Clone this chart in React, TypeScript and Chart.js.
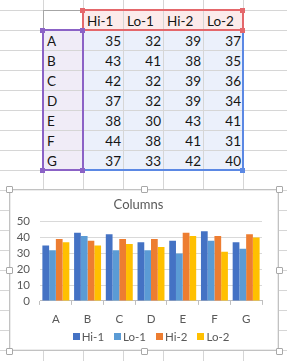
import React, { useEffect, useRef } from 'react';
import { Chart, registerables } from 'chart.js';

Chart.register(...registerables);

const categories = ['A', 'B', 'C', 'D', 'E', 'F', 'G'];
const seriesNames = ['Hi-1', 'Lo-1', 'Hi-2', 'Lo-2'];
const hi1 = [35, 43, 42, 37, 38, 44, 37];
const lo1 = [32, 41, 32, 32, 30, 38, 33];
const hi2 = [39, 38, 39, 39, 43, 41, 42];
const lo2 = [37, 35, 36, 34, 41, 31, 40];
const seriesValues = [hi1, lo1, hi2, lo2];
const seriesColors = ['#4472C4', '#5B9BD5', '#ED7D31', '#FFC000'];
const yMin = 0;
const yMax = 50;
const yStep = 10;
const chartTitle = 'Columns';

const TEXT_GRAY = '#595959';
const FONT = 'Lato, "DejaVu Sans", sans-serif';

const excelLegend = {
  id: 'excelLegend',
  afterDraw(chart: any) {
    const ctx = chart.ctx;
    const area = chart.chartArea;
    ctx.save();
    ctx.font = '11.5px ' + FONT;
    const box = 7;
    const gap = 2;
    const spacing = 10;
    const items = chart.data.datasets.map((ds: any) => ({
      text: ds.label,
      color: ds.backgroundColor,
      w: ctx.measureText(ds.label).width,
    }));
    const total =
      items.reduce((s: number, it: any) => s + box + gap + it.w, 0) + spacing * (items.length - 1);
    let x = (area.left + area.right) / 2 - total / 2;
    const y = area.bottom + 35.5;
    ctx.textBaseline = 'middle';
    ctx.textAlign = 'left';
    items.forEach((it: any) => {
      ctx.fillStyle = it.color;
      ctx.fillRect(Math.round(x), Math.round(y - box / 2), box, box);
      x += box + gap;
      ctx.fillStyle = TEXT_GRAY;
      ctx.fillText(it.text, x, y + 0.5);
      x += it.w + spacing;
    });
    ctx.restore();
  },
};

function ChartView() {
  const ref = useRef<HTMLCanvasElement | null>(null);
  useEffect(() => {
    if (!ref.current) return;
    const chart = new Chart(ref.current, {
      type: 'bar',
      data: {
        labels: categories,
        datasets: seriesNames.map((name, i) => ({
          label: name,
          data: seriesValues[i],
          backgroundColor: seriesColors[i],
          borderWidth: 0,
          categoryPercentage: 0.85,
          barPercentage: 1,
        })),
      },
      options: {
        animation: false,
        responsive: false,
        devicePixelRatio: 1,
        layout: { padding: { left: 4, right: 15, top: 0, bottom: 16.3 } },
        plugins: {
          legend: { display: false },
          tooltip: { enabled: false },
          title: {
            display: true,
            text: chartTitle,
            color: TEXT_GRAY,
            font: { family: FONT, size: 13, weight: 'normal' },
            padding: { top: 6.2, bottom: 8.9 },
          },
        },
        scales: {
          x: {
            grid: {
              offset: true,
              drawOnChartArea: false,
              drawTicks: true,
              tickLength: 4,
              color: '#bfbfbf',
            },
            border: { color: '#bfbfbf' },
            ticks: {
              color: TEXT_GRAY,
              font: { family: FONT, size: 11.5 },
              padding: 7,
              autoSkip: false,
              maxRotation: 0,
            },
          },
          y: {
            min: yMin,
            max: yMax,
            afterFit(scale: any) {
              scale.width = 25;
            },
            ticks: {
              stepSize: yStep,
              autoSkip: false,
              color: TEXT_GRAY,
              font: { family: FONT, size: 11.5 },
              padding: 10,
            },
            grid: { color: '#d9d9d9', drawTicks: false },
            border: { display: false },
          },
        },
      },
      plugins: [excelLegend],
    } as any);
    return () => chart.destroy();
  }, []);
  return (
    <canvas
      ref={ref}
      width={266}
      height={158}
      style={{ position: 'absolute', left: 11, top: 191, width: 266, height: 158 }}
    />
  );
}

const COLS = [43, 83, 123, 163, 203, 243];
const ROW0 = 10;
const ROWH = 20;
const COLW = 40;

function hLine(key: string, x: number, y: number, w: number, h: number, color: string) {
  return (
    <div
      key={key}
      style={{ position: 'absolute', left: x, top: y, width: w, height: h, background: color }}
    />
  );
}

function handle(key: string, cx: number, cy: number, color: string) {
  return (
    <div
      key={key}
      style={{ position: 'absolute', left: cx - 3, top: cy - 2, width: 5, height: 5, background: color }}
    />
  );
}

function cell(key: string, left: number, top: number, text: string, align: 'left' | 'right') {
  return (
    <div
      key={key}
      style={{
        position: 'absolute',
        left,
        top,
        width: COLW,
        height: ROWH,
        lineHeight: '23px',
        textAlign: align,
        paddingLeft: align === 'left' ? 4 : 0,
        paddingRight: align === 'right' ? 2 : 0,
        boxSizing: 'border-box',
        fontFamily: FONT,
        fontSize: 13.5,
        color: '#151515',
        whiteSpace: 'nowrap',
        overflow: 'visible',
      }}
    >
      {text}
    </div>
  );
}

export default function App() {
  const RED = '#e4676b';
  const PURPLE = '#8b62c6';
  const BLUE = '#5b88e4';
  const GRID = '#d6d6d6';
  const nRows = categories.length;
  const dataTop = ROW0 + ROWH;
  const dataBottom = dataTop + nRows * ROWH;
  const left = COLS[0];
  const mid = COLS[1];
  const right = COLS[1] + seriesNames.length * COLW;

  const els: any[] = [];
  // fills
  els.push(hLine('fh', mid, ROW0, right - mid, ROWH, '#fcebeb'));
  els.push(hLine('fc', left, dataTop, mid - left, nRows * ROWH, '#f0ecf7'));
  els.push(hLine('fd', mid, dataTop, right - mid, nRows * ROWH, '#ebf0fb'));
  // grid lines
  for (let k = 0; k < 18; k++) els.push(hLine('gh' + k, 0, ROW0 + k * ROWH, 287, 1, GRID));
  COLS.forEach((x, i) => els.push(hLine('gv' + i, x, 0, 1, 361, GRID)));
  // top-left cell darker edge
  els.push(hLine('d1', left, ROW0, COLW, 1, '#a6a6a6'));
  els.push(hLine('d2', left, ROW0, 1, ROWH, '#a6a6a6'));
  // texts
  seriesNames.forEach((n, i) => els.push(cell('h' + i, mid + i * COLW, ROW0, n, 'left')));
  categories.forEach((c, r) => {
    els.push(cell('c' + r, left, dataTop + r * ROWH, c, 'left'));
    seriesValues.forEach((vals, i) =>
      els.push(cell('v' + r + '_' + i, mid + i * COLW, dataTop + r * ROWH, String(vals[r]), 'right'))
    );
  });
  // blue data border
  els.push(hLine('bb', mid, dataBottom - 1, right - mid, 2, BLUE));
  els.push(hLine('br', right - 1, dataTop, 2, nRows * ROWH, BLUE));
  // red header border
  els.push(hLine('rt', mid - 1, ROW0 - 1, right - mid + 2, 2, RED));
  els.push(hLine('rb', mid - 1, dataTop - 1, right - mid + 2, 2, RED));
  els.push(hLine('rl', mid - 1, ROW0 - 1, 2, ROWH + 2, RED));
  els.push(hLine('rr', right - 1, ROW0 - 1, 2, ROWH + 2, RED));
  // purple category border
  els.push(hLine('pt', left - 1, dataTop - 1, mid - left + 2, 2, PURPLE));
  els.push(hLine('pb', left - 1, dataBottom - 1, mid - left + 2, 2, PURPLE));
  els.push(hLine('pl', left - 1, dataTop - 1, 2, nRows * ROWH + 2, PURPLE));
  els.push(hLine('pr', mid - 1, dataTop - 1, 2, nRows * ROWH + 2, PURPLE));
  // handles
  els.push(handle('hr1', mid, ROW0, RED));
  els.push(handle('hr2', right, ROW0, RED));
  els.push(handle('hr3', right, dataTop, RED));
  els.push(handle('hp1', left, dataTop, PURPLE));
  els.push(handle('hp2', mid, dataTop, PURPLE));
  els.push(handle('hp3', left, dataBottom, PURPLE));
  els.push(handle('hp4', mid, dataBottom, PURPLE));
  els.push(handle('hb1', right, dataBottom, BLUE));

  const frameHandles = [
    [9, 189], [144, 189], [279, 189],
    [9, 270], [279, 270],
    [9, 351], [144, 351], [279, 351],
  ];

  return (
    <div
      style={{
        position: 'fixed',
        left: 0,
        top: 0,
        width: 287,
        height: 361,
        overflow: 'hidden',
        background: '#fff',
      }}
    >
      {els}
      <div
        style={{
          position: 'absolute',
          left: 9,
          top: 189,
          width: 270,
          height: 162,
          boxSizing: 'border-box',
          background: '#fff',
          border: '1px solid #c2c2c2',
          boxShadow: 'inset 0 0 0 1px #ececec',
        }}
      />
      <ChartView />
      {frameHandles.map(([x, y], i) => (
        <div
          key={'fh' + i}
          style={{
            position: 'absolute',
            left: x - 3,
            top: y - 3,
            width: 7,
            height: 7,
            boxSizing: 'border-box',
            background: '#fff',
            border: '1px solid #a8a8a8',
            borderRadius: 1,
          }}
        />
      ))}
    </div>
  );
}
